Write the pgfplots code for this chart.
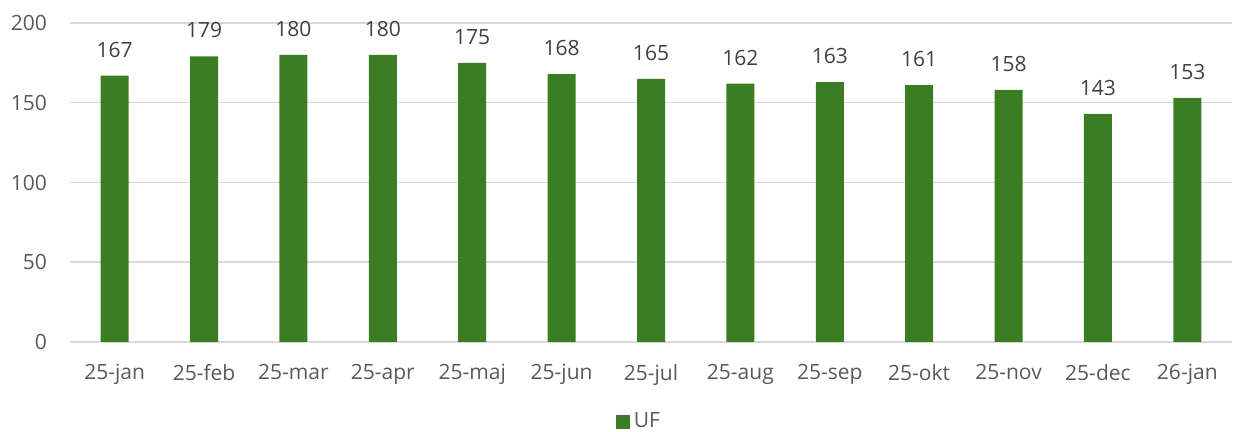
\documentclass[border=0pt]{standalone}
\usepackage{fontspec}
\setmainfont{Open Sans}
\usepackage{pgfplots}
\pgfplotsset{compat=1.18}
\definecolor{barc}{HTML}{3B7D23}
\definecolor{gridc}{HTML}{D9D9D9}
\definecolor{tickc}{HTML}{595959}
\definecolor{labc}{HTML}{404040}
\begin{document}
\begin{tikzpicture}
\begin{axis}[
  scale only axis,
  width=581pt, height=159.5pt,
  xmin=-0.5, xmax=12.5, ymin=0, ymax=200,
  ytick={0,50,100,150,200},
  xtick=data,
  xticklabels={25-jan,25-feb,25-mar,25-apr,25-maj,25-jun,25-jul,25-aug,25-sep,25-okt,25-nov,25-dec,26-jan},
  axis x line*=bottom, axis y line*=left,
  x axis line style={draw=gridc, line width=0.75pt, -},
  y axis line style={draw=none},
  major tick length=0pt,
  ymajorgrids, grid style={draw=gridc, line width=0.75pt},
  ticklabel style={font=\fontsize{10.5}{12}\selectfont, text=tickc},
  /pgf/number format/assume math mode=true,
  xticklabel style={yshift=-7.5pt},
  yticklabel style={xshift=-8pt},
  ybar, bar width=14pt,
  nodes near coords,
  nodes near coords style={font=\fontsize{10.5}{12}\selectfont, text=labc, anchor=south, inner sep=0pt, yshift=9pt},
  legend style={at={(0.4905,0)}, anchor=center, yshift=-40pt, draw=none, font=\fontsize{10.5}{12}\selectfont, text=tickc, inner sep=0pt},
  legend image code/.code={\fill[barc] (0,-3.5pt) rectangle (7pt,3.5pt);},
  clip=false,
]
\addplot[fill=barc, draw=none] coordinates {
(0,167) (1,179) (2,180) (3,180) (4,175) (5,168) (6,165) (7,162) (8,163) (9,161) (10,158) (11,143) (12,153)};
\addlegendentry{UF}
\coordinate (bl) at (rel axis cs:0,0);
\coordinate (tr) at (rel axis cs:1,1);
\end{axis}
\pgfresetboundingbox
\path ([shift={(-35pt,-45pt)}]bl) rectangle ([shift={(0.5pt,11.5pt)}]tr);
\end{tikzpicture}
\end{document}
